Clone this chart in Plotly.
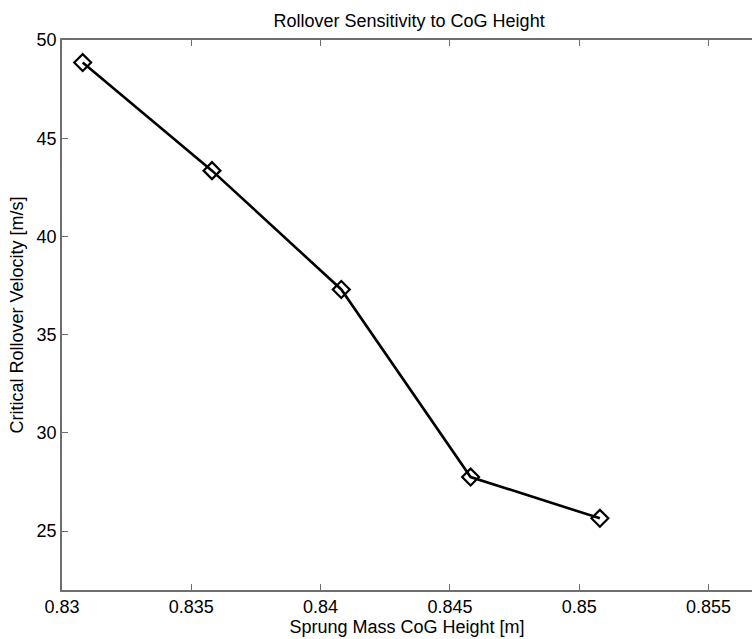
import plotly.graph_objects as go

cog_height = [0.8308, 0.8358, 0.8408, 0.8458, 0.8508]
rollover_velocity = [48.85, 43.35, 37.3, 27.75, 25.65]
x_ticks = [0.83, 0.835, 0.84, 0.845, 0.85, 0.855]
x_tick_labels = ["0.83", "0.835", "0.84", "0.845", "0.85", "0.855"]
y_ticks = [25, 30, 35, 40, 45, 50]

FONT = "Liberation Sans, Arial, sans-serif"
AX = "#6e6e6e"

fig = go.Figure()
fig.add_trace(go.Scatter(
    x=cog_height, y=rollover_velocity, mode="lines+markers",
    line=dict(color="black", width=2.6),
    marker=dict(symbol="diamond-open", size=13, color="black", line=dict(width=2.2, color="black")),
    showlegend=False,
))

fig.update_layout(
    width=752, height=639,
    margin=dict(l=62, r=0, t=40, b=49),
    paper_bgcolor="white", plot_bgcolor="white",
    font=dict(family=FONT, color="black"),
    title=dict(text="Rollover Sensitivity to CoG Height", x=0.544, xanchor="center",
               y=1 - 21 / 639, yanchor="middle", font=dict(size=18, family=FONT)),
    xaxis=dict(
        range=[0.83, 0.8566822], tickvals=x_ticks, ticktext=x_tick_labels,
        ticks="inside", ticklen=6, tickcolor=AX, tickwidth=1,
        showline=True, linecolor=AX, linewidth=1.5, mirror="ticks",
        showgrid=False, zeroline=False,
        tickfont=dict(size=18, family=FONT),
        title=dict(text="Sprung Mass CoG Height [m]", font=dict(size=18, family=FONT), standoff=2),
    ),
    yaxis=dict(
        range=[22, 50], tickvals=y_ticks,
        ticks="inside", ticklen=6, tickcolor=AX, tickwidth=1,
        showline=True, linecolor=AX, linewidth=1.5, mirror=False,
        showgrid=False, zeroline=False,
        tickfont=dict(size=18, family=FONT),
        title=dict(text="Critical Rollover Velocity [m/s]", font=dict(size=18, family=FONT), standoff=8),
    ),
)

fig.write_html("out.html")
